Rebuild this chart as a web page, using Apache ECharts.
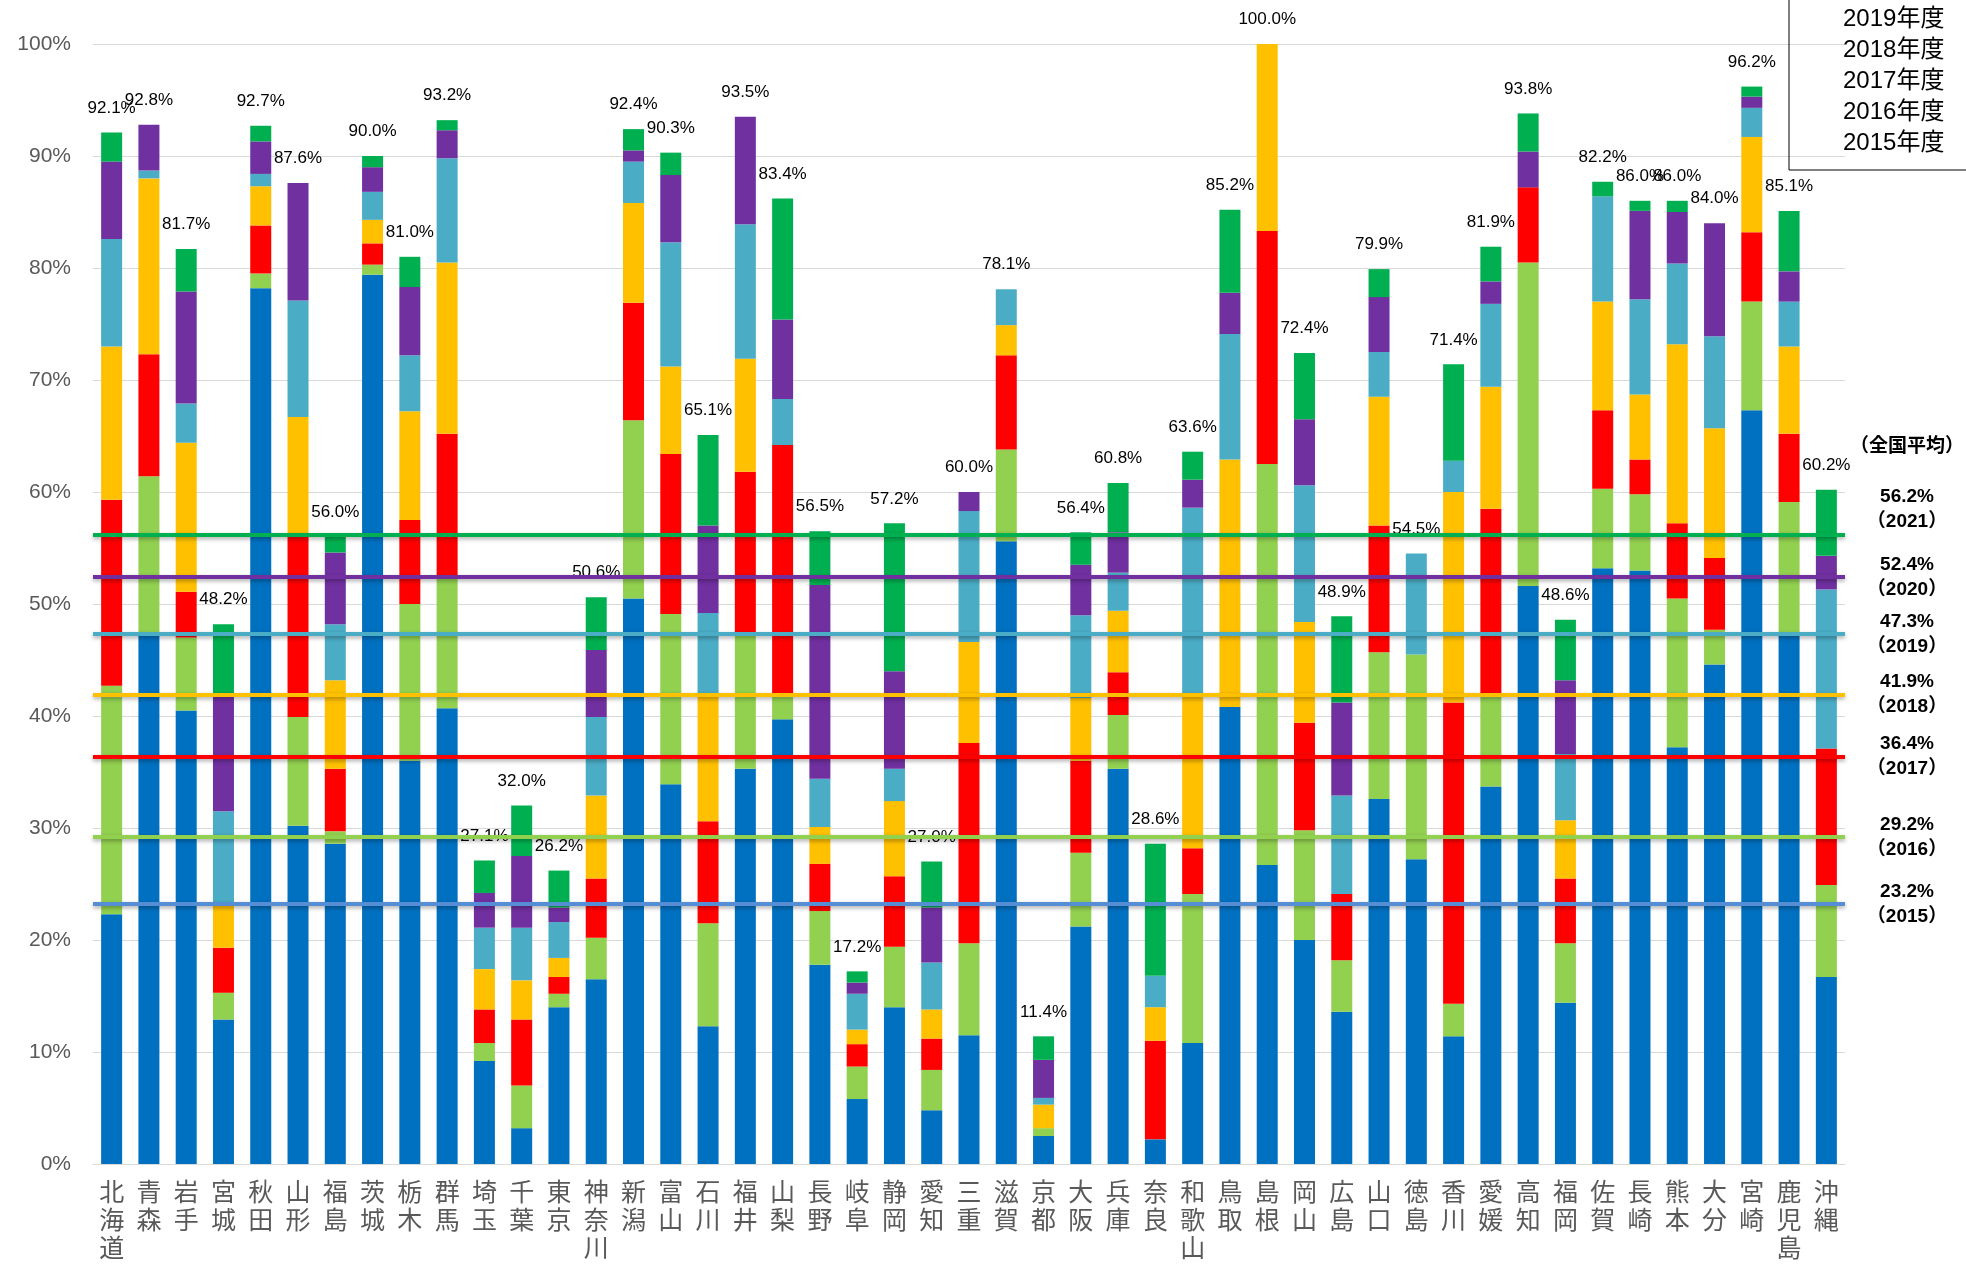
<!DOCTYPE html>
<html>
<head>
<meta charset="utf-8">
<script src="https://cdn.jsdelivr.net/npm/echarts@6/dist/echarts.min.js"></script>
<style>
  html, body { margin: 0; padding: 0; background: #fff; }
  #chart { width: 1966px; height: 1265px; }
</style>
</head>
<body>
<div id="chart"></div>
<script>
var prefectures = ['北海道', '青森', '岩手', '宮城', '秋田', '山形', '福島', '茨城', '栃木', '群馬',
  '埼玉', '千葉', '東京', '神奈川', '新潟', '富山', '石川', '福井', '山梨', '長野',
  '岐阜', '静岡', '愛知', '三重', '滋賀', '京都', '大阪', '兵庫', '奈良', '和歌山',
  '鳥取', '島根', '岡山', '広島', '山口', '徳島', '香川', '愛媛', '高知', '福岡',
  '佐賀', '長崎', '熊本', '大分', '宮崎', '鹿児島', '沖縄'];

// increments per fiscal year (percentage points)
var fy2015 = [22.3, 47.4, 40.5, 12.9, 78.2, 30.2, 28.6, 79.4, 36.0, 40.7,
  9.2, 3.2, 14.0, 16.5, 50.5, 33.9, 12.3, 35.3, 39.7, 17.8,
  5.8, 14.0, 4.8, 11.5, 55.6, 2.5, 21.2, 35.3, 2.2, 10.8,
  40.8, 26.7, 20.0, 13.6, 32.6, 27.2, 11.4, 33.7, 51.6, 14.4,
  53.2, 53.0, 37.2, 44.6, 67.3, 47.5, 16.7];
var fy2016 = [20.4, 14.0, 6.5, 2.4, 1.3, 9.7, 1.1, 0.9, 14.0, 11.9,
  1.6, 3.8, 1.2, 3.7, 15.9, 15.2, 9.2, 11.9, 2.3, 4.8,
  2.9, 5.4, 3.6, 8.2, 8.2, 0.7, 6.6, 4.8, 0, 13.3,
  0, 35.8, 9.8, 4.6, 13.1, 18.3, 2.9, 8.1, 28.9, 5.3,
  7.1, 6.8, 13.3, 3.1, 9.7, 11.6, 8.2];
var fy2017 = [16.6, 10.9, 4.1, 4.0, 4.3, 16.3, 5.6, 1.9, 7.5, 12.6,
  3.0, 5.9, 1.5, 5.3, 10.5, 14.3, 9.1, 14.6, 22.2, 4.2,
  2.0, 6.3, 2.8, 17.9, 8.4, 0, 8.2, 3.8, 8.8, 4.1,
  0, 20.8, 9.6, 5.9, 11.3, 0, 26.9, 16.7, 6.7, 5.8,
  7.0, 3.1, 6.7, 6.4, 6.2, 6.1, 12.2];
var fy2018 = [13.7, 15.7, 13.3, 3.9, 3.5, 10.5, 7.9, 2.1, 9.7, 15.3,
  3.6, 3.5, 1.7, 7.4, 8.9, 7.8, 11.4, 10.1, 0, 3.3,
  1.3, 6.7, 2.6, 9.0, 2.7, 2.1, 5.6, 5.5, 3.0, 13.6,
  22.1, 16.7, 9.0, 0, 11.5, 0, 18.8, 10.9, 0, 5.2,
  9.7, 5.8, 16.0, 11.6, 8.5, 7.8, 0];
var fy2019 = [9.6, 0.7, 3.5, 8.3, 1.1, 10.4, 5.0, 2.5, 5.0, 9.3,
  3.7, 4.7, 3.2, 7.0, 3.7, 11.1, 7.2, 12.0, 4.1, 4.3,
  3.2, 2.9, 4.2, 11.7, 3.2, 0.6, 7.4, 3.4, 2.8, 16.8,
  11.2, 0, 12.2, 8.8, 4.0, 9.0, 2.8, 7.4, 0, 5.9,
  9.4, 8.5, 7.2, 8.2, 2.6, 4.0, 14.2];
var fy2020 = [6.9, 4.1, 10.0, 10.5, 2.9, 10.5, 6.4, 2.2, 6.1, 2.5,
  3.1, 6.4, 1.3, 6.0, 1.0, 6.0, 7.8, 9.6, 7.1, 17.3,
  1.0, 8.7, 4.9, 1.7, 0, 3.4, 4.5, 3.6, 0, 2.5,
  3.7, 0, 5.9, 8.3, 4.9, 0, 0, 2.0, 3.2, 6.6,
  0, 7.9, 4.6, 10.1, 1.0, 2.7, 3.0];
var fy2021 = [2.6, 0, 3.8, 6.2, 1.4, 0, 1.4, 1.0, 2.7, 0.9,
  2.9, 4.5, 3.3, 4.7, 1.9, 2.0, 8.1, 0, 10.8, 4.8,
  1.0, 13.2, 4.1, 0, 0, 2.1, 2.9, 4.4, 11.8, 2.5,
  7.4, 0, 5.9, 7.7, 2.5, 0, 8.6, 3.1, 3.4, 5.4,
  1.3, 0.9, 1.0, 0, 0.9, 5.4, 5.9];

var totalLabels = [92.1, 92.8, 81.7, 48.2, 92.7, 87.6, 56.0, 90.0, 81.0, 93.2,
  27.1, 32.0, 26.2, 50.6, 92.4, 90.3, 65.1, 93.5, 83.4, 56.5,
  17.2, 57.2, 27.0, 60.0, 78.1, 11.4, 56.4, 60.8, 28.6, 63.6,
  85.2, 100.0, 72.4, 48.9, 79.9, 54.5, 71.4, 81.9, 93.8, 48.6,
  82.2, 86.0, 86.0, 84.0, 96.2, 85.1, 60.2];

var years = ['2015', '2016', '2017', '2018', '2019', '2020', '2021'];
var nationalAvg = [23.2, 29.2, 36.4, 41.9, 47.3, 52.4, 56.2];
var yAxisTicks = [0, 10, 20, 30, 40, 50, 60, 70, 80, 90, 100];

var yearData = [fy2015, fy2016, fy2017, fy2018, fy2019, fy2020, fy2021];
var barColors = ['#0070C0', '#92D050', '#FF0000', '#FFC000', '#4BACC6', '#7030A0', '#00B050'];
var avgLineColors = ['#558ED5', '#92D050', '#FF0000', '#FFC000', '#4BACC6', '#7030A0', '#00B050'];
var avgLabelPad = [26, 26, 30, 26, 26, 0, 0];

var dom = document.getElementById('chart');
var myChart = echarts.init(dom, null, { renderer: 'canvas' });

var avgLines = nationalAvg.map(function (v, i) {
  var last = i === nationalAvg.length - 1;
  return {
    yAxis: v,
    lineStyle: { color: avgLineColors[i] },
    label: {
      formatter: (last ? '（全国平均）\n\n' : '') + v.toFixed(1) + '%\n（' + years[i] + '）',
      verticalAlign: last ? 'bottom' : 'middle',
      padding: [avgLabelPad[i], 0, 0, 0]
    }
  };
});

var series = yearData.map(function (arr, i) {
  var s = {
    name: years[i] + '年度',
    type: 'bar',
    stack: 'rate',
    barWidth: 21,
    itemStyle: { color: barColors[i] },
    data: arr
  };
  if (i === 0) {
    s.markLine = {
      silent: true,
      symbol: 'none',
      lineStyle: {
        type: 'solid',
        width: 4,
        shadowColor: 'rgba(0,0,0,0.35)',
        shadowBlur: 4,
        shadowOffsetY: 2
      },
      label: {
        position: 'end',
        distance: [62, 0],
        align: 'center',
        color: '#000',
        fontSize: 19,
        fontWeight: 'bold',
        lineHeight: 25
      },
      data: avgLines
    };
  }
  return s;
});

// total labels on top of each stack
series.push({
  name: 'total',
  type: 'bar',
  stack: 'rate',
  barWidth: 21,
  itemStyle: { color: 'transparent' },
  label: {
    show: true,
    position: 'top',
    distance: 16,
    color: '#000',
    fontSize: 17,
    formatter: function (p) {
      return totalLabels[p.dataIndex].toFixed(1) + '%';
    }
  },
  data: prefectures.map(function () { return 0; })
});

var option = {
  animation: false,
  textStyle: { fontFamily: '"Liberation Sans", "Noto Sans CJK JP", sans-serif' },
  grid: { left: 93, right: 121, top: 44, bottom: 101, containLabel: false },
  legend: {
    data: years.slice().reverse().map(function (y) { return y + '年度'; }),
    orient: 'vertical',
    left: 1789,
    top: -70,
    padding: [13, 60, 13, 49],
    borderColor: '#000',
    borderWidth: 1,
    itemWidth: 0,
    itemHeight: 14,
    itemGap: 3,
    textStyle: { color: '#000', fontSize: 24, lineHeight: 28 }
  },
  xAxis: {
    type: 'category',
    data: prefectures,
    axisTick: { show: false },
    axisLine: { lineStyle: { color: '#d9d9d9' } },
    axisLabel: {
      interval: 0,
      margin: 16,
      color: '#595959',
      fontSize: 25,
      lineHeight: 28,
      verticalAlign: 'top',
      formatter: function (v) { return v.split('').join('\n'); }
    }
  },
  yAxis: {
    type: 'value',
    min: yAxisTicks[0],
    max: yAxisTicks[yAxisTicks.length - 1],
    interval: 10,
    axisLine: { show: false },
    axisTick: { show: false },
    splitLine: { lineStyle: { color: '#d9d9d9', width: 1 } },
    axisLabel: { color: '#595959', fontSize: 21, margin: 22, formatter: '{value}%' }
  },
  series: series
};

if (option && typeof option === 'object') {
  myChart.setOption(option);
}

window.addEventListener('resize', myChart.resize);
</script>
</body>
</html>
